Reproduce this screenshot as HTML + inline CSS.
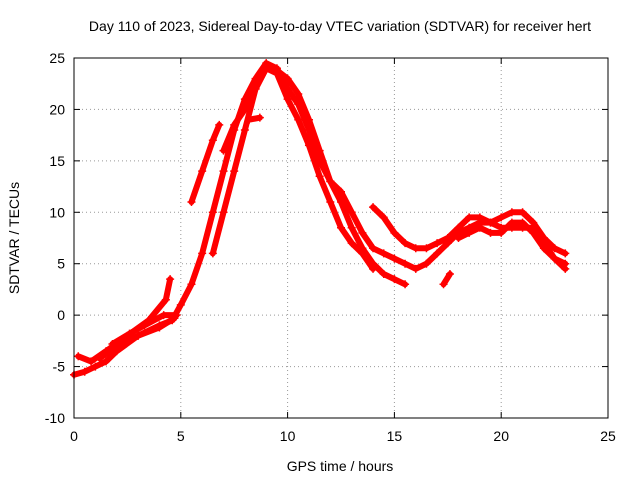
<!DOCTYPE html>
<html><head><meta charset="utf-8"><style>
body{margin:0;background:#fff}
text{font-family:"Liberation Sans",sans-serif;font-size:14px;fill:#000}
</style></head><body>
<svg id="chart" width="640" height="480">
<rect x="0" y="0" width="640" height="480" fill="#fff"/>
<text x="340" y="31" text-anchor="middle">Day 110 of 2023, Sidereal Day-to-day VTEC variation (SDTVAR) for receiver hert</text>
<g id="grid"></g><g id="series"></g><g id="axes"></g>
<text x="340" y="471" text-anchor="middle">GPS time / hours</text>
<text transform="translate(19,238) rotate(-90)" text-anchor="middle">SDTVAR / TECUs</text>
</svg>
<script>
const xTicks=[0,5,10,15,20,25];
const yTicks=[-10,-5,0,5,10,15,20,25];
const seriesA=[[0,-5.8],[0.5,-5.5],[1,-5],[1.5,-4.5],[2,-3.5],[3,-2],[4,-1],[4.6,-0.5],[5,1],[5.5,3],[6,6],[6.5,10],[7,14],[7.5,18],[8,21],[8.5,23],[9,24.5],[9.5,24],[10,22],[10.5,20.5],[11,18],[11.5,15],[12,13],[12.5,11],[13,8.5],[13.5,6.5],[14,5],[14.5,4],[15,3.5],[15.5,3]];
const seriesB=[[0.2,-4],[0.8,-4.5],[1.5,-3.5],[2.5,-2],[3.5,-0.5],[4.3,1.5],[4.5,3.5]];
const seriesC=[[5.5,11],[6,14],[6.5,17],[6.8,18.5]];
const seriesD=[[6.5,6],[7,10],[7.5,14],[8,18],[8.5,22],[9,24],[9.5,23.5],[10,21],[10.5,19],[11,16.5],[11.5,13.5],[12,11],[12.5,8.5],[13,7],[13.5,6],[14,4.5]];
const seriesE=[[7,16],[7.5,18.5],[8,20],[8.5,22],[9,24],[9.5,23.8],[10,23],[10.5,21.5],[11,19],[11.5,16],[12,13],[12.5,12],[13,10],[13.5,8],[14,6.5],[14.5,6],[15,5.5],[15.5,5],[16,4.5],[16.5,5],[17,6],[17.5,7],[18,8],[18.5,8.5],[19,9],[19.5,9],[20,9.5],[20.5,10],[21,10],[21.5,9],[22,7.5],[22.5,6.5],[23,6]];
const seriesF=[[14,10.5],[14.5,9.5],[15,8],[15.5,7],[16,6.5],[16.5,6.5],[17,7],[17.5,7.5],[18,8.5],[18.5,9.5],[19,9.5],[19.5,9],[20,8.5],[20.5,8.5],[21,8.5],[21.5,8.5],[22,7],[22.5,5.5],[23,4.5]];
const seriesG=[[18,7.5],[18.5,8],[19,8.5],[19.5,8],[20,8],[20.5,9],[21,9],[21.5,8],[22,6.5],[22.5,5.5],[23,5]];
const seriesH=[[17.3,3],[17.6,4]];
const seriesI=[[8.2,19],[8.7,19.2]];
const seriesJ=[[1.2,-4.2],[2,-3],[3,-2],[4,-1.2],[4.7,-0.3]];
const seriesK=[[1.8,-2.8],[2.6,-1.8],[3.3,-1],[4.2,0],[4.8,0]];
const allSeries=[seriesA,seriesB,seriesC,seriesD,seriesE,seriesF,seriesG,seriesH,seriesI,seriesJ,seriesK];
const X0=74,X1=608,Y0=418,Y1=58;
const sx=v=>X0+(v-0)/(25-0)*(X1-X0);
const sy=v=>Y0-(v+10)/35*(Y0-Y1);
const NS="http://www.w3.org/2000/svg";
function mk(t,a,p){const e=document.createElementNS(NS,t);for(const k in a)e.setAttribute(k,a[k]);p.appendChild(e);return e;}
const grid=document.getElementById('grid'),axes=document.getElementById('axes'),ser=document.getElementById('series');
xTicks.forEach(t=>{const x=sx(t);
 if(t>0&&t<25){const g=mk('line',{x1:x,x2:x,y1:Y1,y2:Y0,stroke:'#999','stroke-dasharray':'1,3'},grid);}
 mk('line',{x1:x,x2:x,y1:Y0,y2:Y0-6,stroke:'#000'},axes);mk('line',{x1:x,x2:x,y1:Y1,y2:Y1+6,stroke:'#000'},axes);
 const l=mk('text',{x:x,y:Y0+23,'text-anchor':'middle'},axes);l.textContent=t;
 });
yTicks.forEach(t=>{const y=sy(t);
 if(t>-10&&t<25){const g=mk('line',{x1:X0,x2:X1,y1:y,y2:y,stroke:'#999','stroke-dasharray':'1,3'},grid);}
 mk('line',{x1:X0,x2:X0+6,y1:y,y2:y,stroke:'#000'},axes);mk('line',{x1:X1,x2:X1-6,y1:y,y2:y,stroke:'#000'},axes);
 const l=mk('text',{x:X0-9,y:y+5,'text-anchor':'end'},axes);l.textContent=t;
 });
const fr=mk('rect',{x:X0,y:Y1,width:X1-X0,height:Y0-Y1,fill:'none',stroke:'#000'},axes);

allSeries.forEach((s,i)=>{
 const pl=mk('polyline',{points:s.map(p=>sx(p[0])+','+sy(p[1])).join(' '),fill:'none',stroke:'#f00','stroke-width':6,'stroke-linejoin':'round','stroke-linecap':'round'},ser);
 
 
 s.forEach(p=>{const x=sx(p[0]),y=sy(p[1]);
  const m=mk('path',{d:`M${x-4},${y}h8M${x},${y-4}v8`,stroke:'#f00','stroke-width':1.5},ser);
  
  });
});
</script>
</body></html>
